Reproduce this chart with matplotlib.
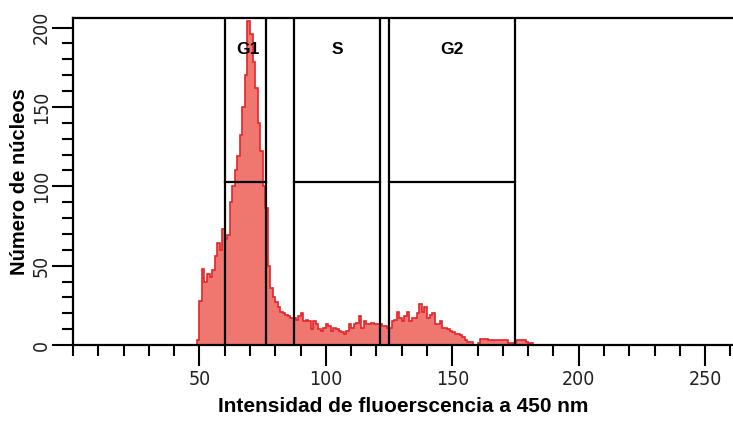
import numpy as np
import matplotlib.pyplot as plt
from matplotlib.ticker import MultipleLocator

# Canal (intensidad) inicial y cuentas por canal
canal_inicio = 49
cuentas = [3, 28, 48, 40, 45, 43, 47, 56, 64, 60,
           73, 67, 69, 90, 100, 110, 119, 132, 150, 170,
           204, 196, 178, 162, 140, 122, 100, 86, 50, 36,
           30, 27, 24, 21, 20, 19, 18, 17, 17, 16,
           18, 20, 15, 16, 15, 10, 15, 13, 10, 9,
           11, 13, 12, 9, 11, 10, 9, 8, 7, 9,
           13, 11, 13, 14, 18, 11, 15, 13, 13, 14,
           13, 13, 13, 12, 12, 11, 11, 15, 16, 21,
           17, 15, 18, 21, 15, 17, 17, 20, 26, 21,
           24, 17, 19, 20, 13, 13, 15, 11, 11, 10,
           9, 8, 7, 7, 6, 5, 3, 2, 2, 0,
           0, 1, 4, 4, 4, 3, 3, 3, 3, 3,
           3, 3, 3, 1, 1, 1, 3, 3, 3, 3,
           2, 1, 1]

# Regiones (gates) del ciclo celular
gate_nombres = ['G1', 'S', 'G2']
gate_inicio = [60, 87.5, 124.8]
gate_fin = [76.5, 121.3, 174.7]
gate_altura = 102.5

bordes = np.arange(canal_inicio, canal_inicio + len(cuentas) + 1)

fig = plt.figure(figsize=(7.33, 4.23), dpi=100)
ax = fig.add_axes([0.0996, 0.1844, 0.9004, 0.773])

ax.stairs(cuentas, bordes, fill=True, color='#f0776f', zorder=1)
ax.stairs(cuentas, bordes, color='#e3262a', linewidth=1.2, zorder=2)

for nombre, x0, x1 in zip(gate_nombres, gate_inicio, gate_fin):
    ax.axvline(x0, color='black', linewidth=1.6, zorder=3)
    ax.axvline(x1, color='black', linewidth=1.6, zorder=3)
    ax.plot([x0, x1], [gate_altura, gate_altura], color='black', linewidth=1.6, zorder=3)
    ax.text((x0 + x1) / 2 + (1 if nombre == 'G1' else 0), 186, nombre,
            ha='center', va='center', fontsize=12.5, fontweight='bold',
            family='Liberation Sans', zorder=4)

ax.set_xlim(0, 261)
ax.set_ylim(0, 206)

ax.spines['right'].set_visible(False)
for s in ['left', 'top', 'bottom']:
    ax.spines[s].set_linewidth(1.6)

ax.xaxis.set_major_locator(MultipleLocator(50))
ax.xaxis.set_minor_locator(MultipleLocator(10))
ax.yaxis.set_major_locator(MultipleLocator(50))
ax.yaxis.set_minor_locator(MultipleLocator(10))
ax.set_xticks([50, 100, 150, 200, 250])
ax.tick_params(axis='both', which='major', length=15, width=1.5, direction='out',
               labelsize=14, pad=3)
ax.tick_params(axis='both', which='minor', length=8, width=1.5, direction='out')
ax.tick_params(axis='y', which='major', pad=1)
for lab in ax.get_xticklabels() + ax.get_yticklabels():
    lab.set_family('DejaVu Sans')
    lab.set_fontstretch('condensed')
    lab.set_color('#222222')
for lab in ax.get_yticklabels():
    lab.set_rotation(90)
    lab.set_va('center')

ax.set_xlabel('Intensidad de fluoerscencia a 450 nm', fontsize=15,
              fontweight='bold', family='Liberation Sans', labelpad=6)
ax.set_ylabel('Número de núcleos', fontsize=14.5, fontweight='bold',
              family='Liberation Sans', labelpad=2)

fig.savefig('out.png', dpi=100)
